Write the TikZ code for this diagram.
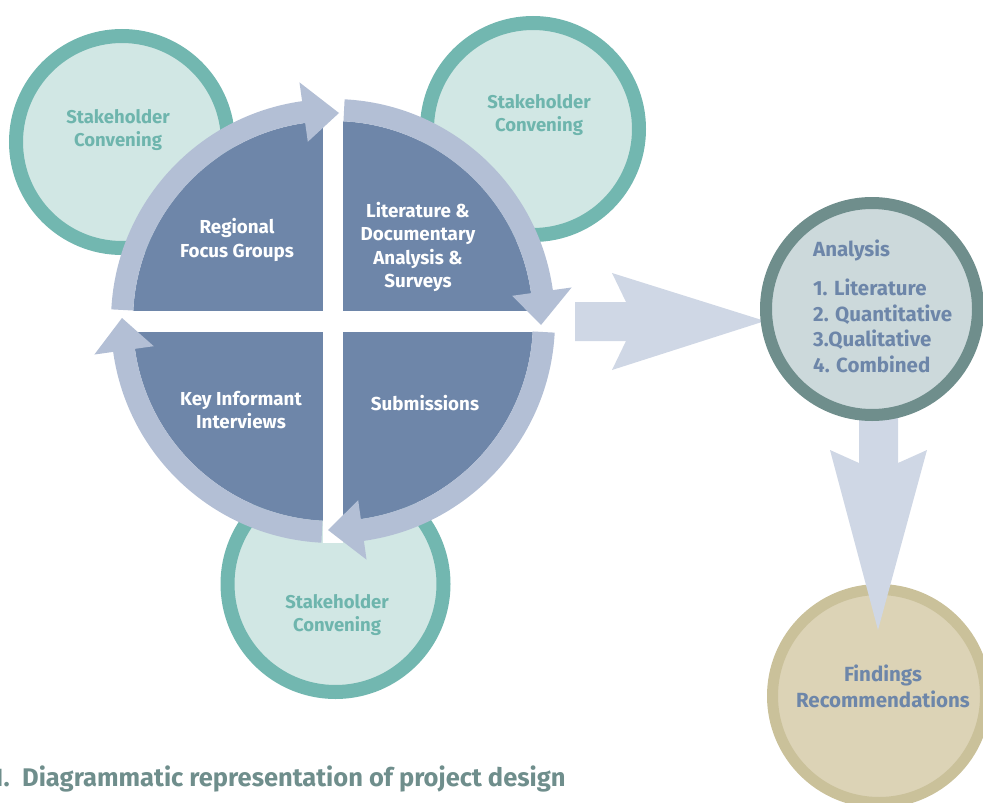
\documentclass[tikz,border=0pt]{standalone}
\usepackage{fontspec}
\setmainfont{Fira Sans}
\usetikzlibrary{calc}
\definecolor{darkq}{HTML}{6E86A9}
\definecolor{ringc}{HTML}{B3BFD5}
\definecolor{bigarrow}{HTML}{CFD7E5}
\definecolor{tealb}{HTML}{72B7B0}
\definecolor{tealf}{HTML}{D1E7E4}
\definecolor{tealtext}{HTML}{6EB5AD}
\definecolor{anab}{HTML}{6F8E8C}
\definecolor{anaf}{HTML}{CCD9DB}
\definecolor{bluetext}{HTML}{6D86A9}
\definecolor{findb}{HTML}{CAC19A}
\definecolor{findf}{HTML}{DCD3B6}
\definecolor{capc}{HTML}{6F8E8C}
\newcommand\ringseg[3]{%
  \fill[ringc] ($(C)+(#1:222)$) arc[start angle=#1, end angle=#2, radius=222]
    -- ($(C)+(#2:241)$) -- (#3) -- ($(C)+(#2:181)$) -- ($(C)+(#2:200)$)
    arc[start angle=#2, end angle=#1, radius=200] -- cycle;}
\begin{document}
\begin{tikzpicture}[x=1pt,y=1pt,yscale=-1,
  stk/.style={circle, draw=tealb, fill=tealf, line width=14pt, inner sep=0pt},
  stktext/.style={text=tealtext, align=center, font=\bfseries\fontsize{18.5}{23.3}\selectfont},
  qtext/.style={text=white, align=center, font=\bfseries\fontsize{18.8}{23.5}\selectfont},
  anatext/.style={text=bluetext, font=\bfseries\fontsize{20.5}{25.5}\selectfont, inner sep=0pt},
  findtext/.style={text=bluetext, align=center, font=\bfseries\fontsize{20.5}{26}\selectfont},
  captext/.style={text=capc, font=\bfseries\fontsize{25.5}{30}\selectfont, inner sep=0pt},
  blockarrow/.style={fill=bigarrow}]
\useasboundingbox (0,0) rectangle (983,803);
% stakeholder circles
\node[stk, minimum size=212pt] (sk1) at (122,142) {};
\node[stk, minimum size=212pt] (sk2) at (533,129) {};
\node[stk, minimum size=216pt] (sk3) at (335.5,584) {};
% main wheel
\coordinate (C) at (333,321);
\fill[darkq] (C) circle[radius=200];
\fill[white] (111,311) rectangle (555,332);
\fill[white] (323,99) rectangle (343,543);
\coordinate (TLtip) at (339,113);
\coordinate (TRtip) at (541,325);
\coordinate (BRtip) at (328,530);
\coordinate (BLtip) at (122,318);
\ringseg{-177}{-98}{TLtip}
\ringseg{-87}{-8}{TRtip}
\ringseg{3}{82}{BRtip}
\ringseg{93}{172}{BLtip}
% findings circle
\node[circle, draw=findb, fill=findf, line width=11pt, inner sep=0pt, minimum size=213pt] (find) at (879,696) {};
% block arrows
\coordinate (ra0) at (575,321);
\coordinate (da0) at (878.5,412);
\fill[blockarrow] (575,302) -- (626,302) -- (612,273) -- (765,321) -- (612,370) -- (626,341) -- (575,341) -- cycle;
\fill[blockarrow] (859,412) -- (859,463) -- (830,450) -- (878,630) -- (927,450) -- (898,463) -- (898,412) -- cycle;
% analysis circle
\node[circle, draw=anab, fill=anaf, line width=12pt, inner sep=0pt, minimum size=212pt] (ana) at (872,309) {};
% texts
\node[stktext] (sk1t) at (118,130) {Stakeholder\\Convening};
\node[stktext] (sk2t) at (539,115) {Stakeholder\\Convening};
\node[stktext] (sk3t) at (337,615) {Stakeholder\\Convening};
\node[qtext] (q1) at (237,240) {Regional\\Focus Groups};
\node[qtext] (q2) at (418,247) {Literature \&\\Documentary\\Analysis \&\\Surveys};
\node[qtext] (q3) at (241,410) {Key Informant\\Interviews};
\node[qtext] (q4) at (425,403) {Submissions};
\node[anatext, anchor=west] (anat) at (813,250) {Analysis};
\node[anatext, anchor=north west, align=left] (anal) at (813,279) {1. Literature\\2. Quantitative\\3.Qualitative\\4. Combined};
\node[findtext] (fr) at (883,686) {Findings\\Recommendations};
\node[captext, anchor=base east] (cap0) at (10,786) {1.};
\node[captext, anchor=base west] (cap) at (22,786) {Diagrammatic representation of project design};
\end{tikzpicture}
\end{document}
